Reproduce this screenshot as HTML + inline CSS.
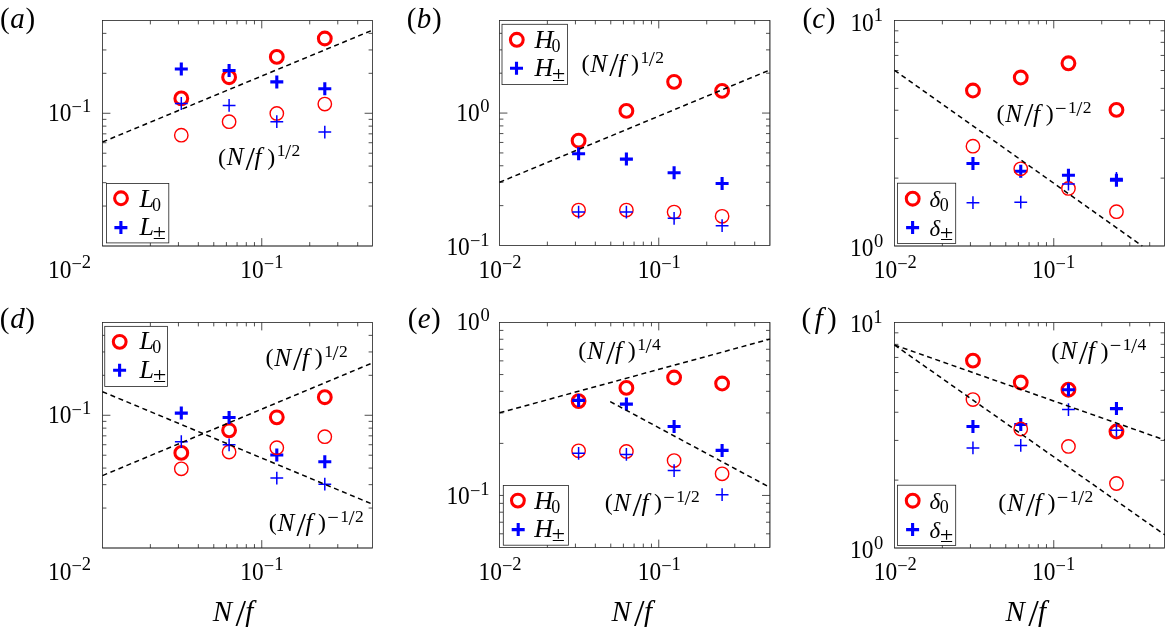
<!DOCTYPE html>
<html lang="en">
<head>
<meta charset="utf-8">
<title>Figure</title>
<style>
html,body{margin:0;padding:0;background:#fff;overflow:hidden}
svg{display:block}
</style>
</head>
<body>
<svg width="1165" height="627" viewBox="0 0 1165 627" font-family="'Liberation Serif', 'DejaVu Serif', serif" fill="#000">
<rect width="1165" height="627" fill="#fff"/>
<g id="panel-a">
<path d="M150.37 20.5v3.9M150.37 246v-3.9M178.43 20.5v3.9M178.43 246v-3.9M198.34 20.5v3.9M198.34 246v-3.9M213.78 20.5v3.9M213.78 246v-3.9M226.4 20.5v3.9M226.4 246v-3.9M237.07 20.5v3.9M237.07 246v-3.9M246.31 20.5v3.9M246.31 246v-3.9M254.46 20.5v3.9M254.46 246v-3.9M261.75 20.5v7.9M261.75 246v-7.9M309.72 20.5v3.9M309.72 246v-3.9M337.78 20.5v3.9M337.78 246v-3.9M357.69 20.5v3.9M357.69 246v-3.9M102.5 206.05h3.9M372.5 206.05h-3.9M102.5 182.67h3.9M372.5 182.67h-3.9M102.5 166.09h3.9M372.5 166.09h-3.9M102.5 153.23h3.9M372.5 153.23h-3.9M102.5 142.72h3.9M372.5 142.72h-3.9M102.5 133.83h3.9M372.5 133.83h-3.9M102.5 126.14h3.9M372.5 126.14h-3.9M102.5 119.35h3.9M372.5 119.35h-3.9M102.5 113.27h7.9M372.5 113.27h-7.9M102.5 73.32h3.9M372.5 73.32h-3.9M102.5 49.95h3.9M372.5 49.95h-3.9M102.5 33.36h3.9M372.5 33.36h-3.9" stroke="#222" stroke-width="0.8" fill="none"/>
<rect x="102.5" y="20.5" width="270" height="225.5" fill="none" stroke="#222" stroke-width="0.8"/>
<path d="M102.5 246H372.5" stroke="#222" stroke-width="0.5" fill="none"/>
<circle cx="181.3" cy="98.4" r="6.4" fill="none" stroke="#ff0000" stroke-width="3.05"/>
<circle cx="229.1" cy="77.2" r="6.4" fill="none" stroke="#ff0000" stroke-width="3.05"/>
<circle cx="276.8" cy="56.9" r="6.4" fill="none" stroke="#ff0000" stroke-width="3.05"/>
<circle cx="324.8" cy="38.5" r="6.4" fill="none" stroke="#ff0000" stroke-width="3.05"/>
<path d="M174.8 69H187.8M181.3 62.5V75.5" stroke="#0000ff" stroke-width="3.1" fill="none"/>
<path d="M222.6 70.5H235.6M229.1 64V77" stroke="#0000ff" stroke-width="3.1" fill="none"/>
<path d="M270.3 81.9H283.3M276.8 75.4V88.4" stroke="#0000ff" stroke-width="3.1" fill="none"/>
<path d="M318.3 88.8H331.3M324.8 82.3V95.3" stroke="#0000ff" stroke-width="3.1" fill="none"/>
<circle cx="181.3" cy="135.2" r="6.7" fill="none" stroke="#ff0000" stroke-width="1.4"/>
<circle cx="229.1" cy="121.7" r="6.7" fill="none" stroke="#ff0000" stroke-width="1.4"/>
<circle cx="276.8" cy="113.4" r="6.7" fill="none" stroke="#ff0000" stroke-width="1.4"/>
<circle cx="324.8" cy="104.1" r="6.7" fill="none" stroke="#ff0000" stroke-width="1.4"/>
<path d="M174.9 103.5H187.7M181.3 97.1V109.9" stroke="#0000ff" stroke-width="1.5" fill="none"/>
<path d="M222.7 105.4H235.5M229.1 99V111.8" stroke="#0000ff" stroke-width="1.5" fill="none"/>
<path d="M270.4 121.7H283.2M276.8 115.3V128.1" stroke="#0000ff" stroke-width="1.5" fill="none"/>
<path d="M318.4 132.1H331.2M324.8 125.7V138.5" stroke="#0000ff" stroke-width="1.5" fill="none"/>
<line x1="102.5" y1="142" x2="372.5" y2="30.15" stroke="#000" stroke-width="1.5" stroke-dasharray="5 3.65"/>
</g>
<g id="panel-b">
<path d="M547.37 20.5v3.9M547.37 245.5v-3.9M575.43 20.5v3.9M575.43 245.5v-3.9M595.34 20.5v3.9M595.34 245.5v-3.9M610.78 20.5v3.9M610.78 245.5v-3.9M623.4 20.5v3.9M623.4 245.5v-3.9M634.07 20.5v3.9M634.07 245.5v-3.9M643.31 20.5v3.9M643.31 245.5v-3.9M651.46 20.5v3.9M651.46 245.5v-3.9M658.75 20.5v7.9M658.75 245.5v-7.9M706.72 20.5v3.9M706.72 245.5v-3.9M734.78 20.5v3.9M734.78 245.5v-3.9M754.69 20.5v3.9M754.69 245.5v-3.9M499.5 205.63h3.9M769.9 205.63h-3.9M499.5 182.31h3.9M769.9 182.31h-3.9M499.5 165.77h3.9M769.9 165.77h-3.9M499.5 152.93h3.9M769.9 152.93h-3.9M499.5 142.45h3.9M769.9 142.45h-3.9M499.5 133.58h3.9M769.9 133.58h-3.9M499.5 125.9h3.9M769.9 125.9h-3.9M499.5 119.13h3.9M769.9 119.13h-3.9M499.5 113.07h7.9M769.9 113.07h-7.9M499.5 73.2h3.9M769.9 73.2h-3.9M499.5 49.88h3.9M769.9 49.88h-3.9M499.5 33.33h3.9M769.9 33.33h-3.9" stroke="#222" stroke-width="0.8" fill="none"/>
<rect x="499.5" y="20.5" width="270.4" height="225" fill="none" stroke="#222" stroke-width="0.8"/>
<path d="M769.9 20.5V245.5" stroke="#222" stroke-width="0.5" fill="none"/>
<circle cx="578.6" cy="140.7" r="6.4" fill="none" stroke="#ff0000" stroke-width="3.05"/>
<circle cx="626.4" cy="110.9" r="6.4" fill="none" stroke="#ff0000" stroke-width="3.05"/>
<circle cx="674.1" cy="81.8" r="6.4" fill="none" stroke="#ff0000" stroke-width="3.05"/>
<circle cx="722.1" cy="90.9" r="6.4" fill="none" stroke="#ff0000" stroke-width="3.05"/>
<path d="M572.1 153.8H585.1M578.6 147.3V160.3" stroke="#0000ff" stroke-width="3.1" fill="none"/>
<path d="M619.9 159.1H632.9M626.4 152.6V165.6" stroke="#0000ff" stroke-width="3.1" fill="none"/>
<path d="M667.6 172.8H680.6M674.1 166.3V179.3" stroke="#0000ff" stroke-width="3.1" fill="none"/>
<path d="M715.6 183.5H728.6M722.1 177V190" stroke="#0000ff" stroke-width="3.1" fill="none"/>
<circle cx="578.6" cy="210.1" r="6.7" fill="none" stroke="#ff0000" stroke-width="1.4"/>
<circle cx="626.4" cy="210.1" r="6.7" fill="none" stroke="#ff0000" stroke-width="1.4"/>
<circle cx="674.1" cy="212.1" r="6.7" fill="none" stroke="#ff0000" stroke-width="1.4"/>
<circle cx="722.1" cy="216.3" r="6.7" fill="none" stroke="#ff0000" stroke-width="1.4"/>
<path d="M572.2 212.1H585M578.6 205.7V218.5" stroke="#0000ff" stroke-width="1.5" fill="none"/>
<path d="M620 212.1H632.8M626.4 205.7V218.5" stroke="#0000ff" stroke-width="1.5" fill="none"/>
<path d="M667.7 218.3H680.5M674.1 211.9V224.7" stroke="#0000ff" stroke-width="1.5" fill="none"/>
<path d="M715.7 225.7H728.5M722.1 219.3V232.1" stroke="#0000ff" stroke-width="1.5" fill="none"/>
<line x1="499.5" y1="182.3" x2="769.9" y2="69.95" stroke="#000" stroke-width="1.5" stroke-dasharray="5 3.65"/>
</g>
<g id="panel-c">
<path d="M942.37 20.5v3.9M942.37 246v-3.9M970.43 20.5v3.9M970.43 246v-3.9M990.34 20.5v3.9M990.34 246v-3.9M1005.78 20.5v3.9M1005.78 246v-3.9M1018.4 20.5v3.9M1018.4 246v-3.9M1029.07 20.5v3.9M1029.07 246v-3.9M1038.31 20.5v3.9M1038.31 246v-3.9M1046.46 20.5v3.9M1046.46 246v-3.9M1053.75 20.5v7.9M1053.75 246v-7.9M1101.72 20.5v3.9M1101.72 246v-3.9M1129.78 20.5v3.9M1129.78 246v-3.9M1149.69 20.5v3.9M1149.69 246v-3.9M894.5 178.12h3.9M1164.5 178.12h-3.9M894.5 138.41h3.9M1164.5 138.41h-3.9M894.5 110.24h3.9M1164.5 110.24h-3.9M894.5 88.38h3.9M1164.5 88.38h-3.9M894.5 70.53h3.9M1164.5 70.53h-3.9M894.5 55.43h3.9M1164.5 55.43h-3.9M894.5 42.35h3.9M1164.5 42.35h-3.9M894.5 30.82h3.9M1164.5 30.82h-3.9" stroke="#222" stroke-width="0.8" fill="none"/>
<rect x="894.5" y="20.5" width="270" height="225.5" fill="none" stroke="#222" stroke-width="0.8"/>
<path d="M894.5 246H1164.5" stroke="#222" stroke-width="0.5" fill="none"/>
<circle cx="972.95" cy="90.5" r="6.4" fill="none" stroke="#ff0000" stroke-width="3.05"/>
<circle cx="1020.75" cy="77.5" r="6.4" fill="none" stroke="#ff0000" stroke-width="3.05"/>
<circle cx="1068.45" cy="63.3" r="6.4" fill="none" stroke="#ff0000" stroke-width="3.05"/>
<circle cx="1116.45" cy="109.9" r="6.4" fill="none" stroke="#ff0000" stroke-width="3.05"/>
<path d="M966.45 163.5H979.45M972.95 157V170" stroke="#0000ff" stroke-width="3.1" fill="none"/>
<path d="M1014.25 171.3H1027.25M1020.75 164.8V177.8" stroke="#0000ff" stroke-width="3.1" fill="none"/>
<path d="M1061.95 175.3H1074.95M1068.45 168.8V181.8" stroke="#0000ff" stroke-width="3.1" fill="none"/>
<path d="M1109.95 180.2H1122.95M1116.45 173.7V186.7" stroke="#0000ff" stroke-width="3.1" fill="none"/>
<circle cx="972.95" cy="146.2" r="6.7" fill="none" stroke="#ff0000" stroke-width="1.4"/>
<circle cx="1020.75" cy="168.8" r="6.7" fill="none" stroke="#ff0000" stroke-width="1.4"/>
<circle cx="1068.45" cy="188.4" r="6.7" fill="none" stroke="#ff0000" stroke-width="1.4"/>
<circle cx="1116.45" cy="211.7" r="6.7" fill="none" stroke="#ff0000" stroke-width="1.4"/>
<path d="M966.55 202.7H979.35M972.95 196.3V209.1" stroke="#0000ff" stroke-width="1.5" fill="none"/>
<path d="M1014.35 202.2H1027.15M1020.75 195.8V208.6" stroke="#0000ff" stroke-width="1.5" fill="none"/>
<path d="M1062.05 184H1074.85M1068.45 177.6V190.4" stroke="#0000ff" stroke-width="1.5" fill="none"/>
<path d="M1110.05 178.4H1122.85M1116.45 172V184.8" stroke="#0000ff" stroke-width="1.5" fill="none"/>
<line x1="894.5" y1="70.3" x2="1142.3" y2="246" stroke="#000" stroke-width="1.5" stroke-dasharray="5 3.65"/>
</g>
<g id="panel-d">
<path d="M150.37 322.5v3.9M150.37 548v-3.9M178.43 322.5v3.9M178.43 548v-3.9M198.34 322.5v3.9M198.34 548v-3.9M213.78 322.5v3.9M213.78 548v-3.9M226.4 322.5v3.9M226.4 548v-3.9M237.07 322.5v3.9M237.07 548v-3.9M246.31 322.5v3.9M246.31 548v-3.9M254.46 322.5v3.9M254.46 548v-3.9M261.75 322.5v7.9M261.75 548v-7.9M309.72 322.5v3.9M309.72 548v-3.9M337.78 322.5v3.9M337.78 548v-3.9M357.69 322.5v3.9M357.69 548v-3.9M102.5 508.05h3.9M372.5 508.05h-3.9M102.5 484.67h3.9M372.5 484.67h-3.9M102.5 468.09h3.9M372.5 468.09h-3.9M102.5 455.23h3.9M372.5 455.23h-3.9M102.5 444.72h3.9M372.5 444.72h-3.9M102.5 435.83h3.9M372.5 435.83h-3.9M102.5 428.14h3.9M372.5 428.14h-3.9M102.5 421.35h3.9M372.5 421.35h-3.9M102.5 415.27h7.9M372.5 415.27h-7.9M102.5 375.32h3.9M372.5 375.32h-3.9M102.5 351.95h3.9M372.5 351.95h-3.9M102.5 335.36h3.9M372.5 335.36h-3.9" stroke="#222" stroke-width="0.8" fill="none"/>
<rect x="102.5" y="322.5" width="270" height="225.5" fill="none" stroke="#222" stroke-width="0.8"/>
<path d="M102.5 548H372.5" stroke="#222" stroke-width="0.5" fill="none"/>
<circle cx="181.3" cy="452.9" r="6.4" fill="none" stroke="#ff0000" stroke-width="3.05"/>
<circle cx="229.1" cy="430.3" r="6.4" fill="none" stroke="#ff0000" stroke-width="3.05"/>
<circle cx="276.8" cy="417.3" r="6.4" fill="none" stroke="#ff0000" stroke-width="3.05"/>
<circle cx="324.8" cy="397.2" r="6.4" fill="none" stroke="#ff0000" stroke-width="3.05"/>
<path d="M174.8 413.1H187.8M181.3 406.6V419.6" stroke="#0000ff" stroke-width="3.1" fill="none"/>
<path d="M222.6 417.5H235.6M229.1 411V424" stroke="#0000ff" stroke-width="3.1" fill="none"/>
<path d="M270.3 455H283.3M276.8 448.5V461.5" stroke="#0000ff" stroke-width="3.1" fill="none"/>
<path d="M318.3 461.8H331.3M324.8 455.3V468.3" stroke="#0000ff" stroke-width="3.1" fill="none"/>
<circle cx="181.3" cy="468.8" r="6.7" fill="none" stroke="#ff0000" stroke-width="1.4"/>
<circle cx="229.1" cy="452" r="6.7" fill="none" stroke="#ff0000" stroke-width="1.4"/>
<circle cx="276.8" cy="447.7" r="6.7" fill="none" stroke="#ff0000" stroke-width="1.4"/>
<circle cx="324.8" cy="436.7" r="6.7" fill="none" stroke="#ff0000" stroke-width="1.4"/>
<path d="M174.9 441.7H187.7M181.3 435.3V448.1" stroke="#0000ff" stroke-width="1.5" fill="none"/>
<path d="M222.7 444.8H235.5M229.1 438.4V451.2" stroke="#0000ff" stroke-width="1.5" fill="none"/>
<path d="M270.4 478.1H283.2M276.8 471.7V484.5" stroke="#0000ff" stroke-width="1.5" fill="none"/>
<path d="M318.4 484.2H331.2M324.8 477.8V490.6" stroke="#0000ff" stroke-width="1.5" fill="none"/>
<line x1="102.5" y1="475.6" x2="372.5" y2="362.9" stroke="#000" stroke-width="1.5" stroke-dasharray="5 3.65"/>
<line x1="102.5" y1="391.7" x2="372.5" y2="504.2" stroke="#000" stroke-width="1.5" stroke-dasharray="5 3.65"/>
</g>
<g id="panel-e">
<path d="M547.37 322.5v3.9M547.37 547.5v-3.9M575.43 322.5v3.9M575.43 547.5v-3.9M595.34 322.5v3.9M595.34 547.5v-3.9M610.78 322.5v3.9M610.78 547.5v-3.9M623.4 322.5v3.9M623.4 547.5v-3.9M634.07 322.5v3.9M634.07 547.5v-3.9M643.31 322.5v3.9M643.31 547.5v-3.9M651.46 322.5v3.9M651.46 547.5v-3.9M658.75 322.5v7.9M658.75 547.5v-7.9M706.72 322.5v3.9M706.72 547.5v-3.9M734.78 322.5v3.9M734.78 547.5v-3.9M754.69 322.5v3.9M754.69 547.5v-3.9M499.5 533.81h3.9M769.9 533.81h-3.9M499.5 522.23h3.9M769.9 522.23h-3.9M499.5 512.2h3.9M769.9 512.2h-3.9M499.5 503.35h3.9M769.9 503.35h-3.9M499.5 495.44h7.9M769.9 495.44h-7.9M499.5 443.38h3.9M769.9 443.38h-3.9M499.5 412.93h3.9M769.9 412.93h-3.9M499.5 391.32h3.9M769.9 391.32h-3.9M499.5 374.56h3.9M769.9 374.56h-3.9M499.5 360.87h3.9M769.9 360.87h-3.9M499.5 349.29h3.9M769.9 349.29h-3.9M499.5 339.26h3.9M769.9 339.26h-3.9M499.5 330.41h3.9M769.9 330.41h-3.9" stroke="#222" stroke-width="0.8" fill="none"/>
<rect x="499.5" y="322.5" width="270.4" height="225" fill="none" stroke="#222" stroke-width="0.8"/>
<path d="M769.9 322.5V547.5" stroke="#222" stroke-width="0.5" fill="none"/>
<circle cx="578.6" cy="401.1" r="6.4" fill="none" stroke="#ff0000" stroke-width="3.05"/>
<circle cx="626.4" cy="387.9" r="6.4" fill="none" stroke="#ff0000" stroke-width="3.05"/>
<circle cx="674.1" cy="377.5" r="6.4" fill="none" stroke="#ff0000" stroke-width="3.05"/>
<circle cx="722.1" cy="383.5" r="6.4" fill="none" stroke="#ff0000" stroke-width="3.05"/>
<path d="M572.1 400.4H585.1M578.6 393.9V406.9" stroke="#0000ff" stroke-width="3.1" fill="none"/>
<path d="M619.9 404.1H632.9M626.4 397.6V410.6" stroke="#0000ff" stroke-width="3.1" fill="none"/>
<path d="M667.6 426.5H680.6M674.1 420V433" stroke="#0000ff" stroke-width="3.1" fill="none"/>
<path d="M715.6 450.4H728.6M722.1 443.9V456.9" stroke="#0000ff" stroke-width="3.1" fill="none"/>
<circle cx="578.6" cy="450.8" r="6.7" fill="none" stroke="#ff0000" stroke-width="1.4"/>
<circle cx="626.4" cy="451.4" r="6.7" fill="none" stroke="#ff0000" stroke-width="1.4"/>
<circle cx="674.1" cy="460.6" r="6.7" fill="none" stroke="#ff0000" stroke-width="1.4"/>
<circle cx="722.1" cy="473.8" r="6.7" fill="none" stroke="#ff0000" stroke-width="1.4"/>
<path d="M572.2 453.3H585M578.6 446.9V459.7" stroke="#0000ff" stroke-width="1.5" fill="none"/>
<path d="M620 454.4H632.8M626.4 448V460.8" stroke="#0000ff" stroke-width="1.5" fill="none"/>
<path d="M667.7 470.6H680.5M674.1 464.2V477" stroke="#0000ff" stroke-width="1.5" fill="none"/>
<path d="M715.7 494.7H728.5M722.1 488.3V501.1" stroke="#0000ff" stroke-width="1.5" fill="none"/>
<line x1="499.5" y1="412.8" x2="770" y2="339.1" stroke="#000" stroke-width="1.5" stroke-dasharray="5 3.65"/>
<line x1="610.2" y1="401.6" x2="770" y2="487.5" stroke="#000" stroke-width="1.5" stroke-dasharray="5 3.65"/>
</g>
<g id="panel-f">
<path d="M942.37 322.5v3.9M942.37 548v-3.9M970.43 322.5v3.9M970.43 548v-3.9M990.34 322.5v3.9M990.34 548v-3.9M1005.78 322.5v3.9M1005.78 548v-3.9M1018.4 322.5v3.9M1018.4 548v-3.9M1029.07 322.5v3.9M1029.07 548v-3.9M1038.31 322.5v3.9M1038.31 548v-3.9M1046.46 322.5v3.9M1046.46 548v-3.9M1053.75 322.5v7.9M1053.75 548v-7.9M1101.72 322.5v3.9M1101.72 548v-3.9M1129.78 322.5v3.9M1129.78 548v-3.9M1149.69 322.5v3.9M1149.69 548v-3.9M894.5 480.12h3.9M1164.5 480.12h-3.9M894.5 440.41h3.9M1164.5 440.41h-3.9M894.5 412.24h3.9M1164.5 412.24h-3.9M894.5 390.38h3.9M1164.5 390.38h-3.9M894.5 372.53h3.9M1164.5 372.53h-3.9M894.5 357.43h3.9M1164.5 357.43h-3.9M894.5 344.35h3.9M1164.5 344.35h-3.9M894.5 332.82h3.9M1164.5 332.82h-3.9" stroke="#222" stroke-width="0.8" fill="none"/>
<rect x="894.5" y="322.5" width="270" height="225.5" fill="none" stroke="#222" stroke-width="0.8"/>
<path d="M894.5 548H1164.5" stroke="#222" stroke-width="0.5" fill="none"/>
<circle cx="972.95" cy="360.6" r="6.4" fill="none" stroke="#ff0000" stroke-width="3.05"/>
<circle cx="1020.75" cy="382.5" r="6.4" fill="none" stroke="#ff0000" stroke-width="3.05"/>
<circle cx="1068.45" cy="389.7" r="6.4" fill="none" stroke="#ff0000" stroke-width="3.05"/>
<circle cx="1116.45" cy="431.5" r="6.4" fill="none" stroke="#ff0000" stroke-width="3.05"/>
<path d="M966.45 426.5H979.45M972.95 420V433" stroke="#0000ff" stroke-width="3.1" fill="none"/>
<path d="M1014.25 424.5H1027.25M1020.75 418V431" stroke="#0000ff" stroke-width="3.1" fill="none"/>
<path d="M1061.95 389.7H1074.95M1068.45 383.2V396.2" stroke="#0000ff" stroke-width="3.1" fill="none"/>
<path d="M1109.95 408.6H1122.95M1116.45 402.1V415.1" stroke="#0000ff" stroke-width="3.1" fill="none"/>
<circle cx="972.95" cy="399.6" r="6.7" fill="none" stroke="#ff0000" stroke-width="1.4"/>
<circle cx="1020.75" cy="429" r="6.7" fill="none" stroke="#ff0000" stroke-width="1.4"/>
<circle cx="1068.45" cy="446.4" r="6.7" fill="none" stroke="#ff0000" stroke-width="1.4"/>
<circle cx="1116.45" cy="483.5" r="6.7" fill="none" stroke="#ff0000" stroke-width="1.4"/>
<path d="M966.55 447.9H979.35M972.95 441.5V454.3" stroke="#0000ff" stroke-width="1.5" fill="none"/>
<path d="M1014.35 445.4H1027.15M1020.75 439V451.8" stroke="#0000ff" stroke-width="1.5" fill="none"/>
<path d="M1062.05 409.6H1074.85M1068.45 403.2V416" stroke="#0000ff" stroke-width="1.5" fill="none"/>
<path d="M1110.05 430.3H1122.85M1116.45 423.9V436.7" stroke="#0000ff" stroke-width="1.5" fill="none"/>
<line x1="894.5" y1="345" x2="1165" y2="440.1" stroke="#000" stroke-width="1.5" stroke-dasharray="5 3.65"/>
<line x1="894.5" y1="345" x2="1165" y2="535" stroke="#000" stroke-width="1.5" stroke-dasharray="5 3.65"/>
</g>
<rect x="106.4" y="183.5" width="62.4" height="59.4" fill="#fff" stroke="#222" stroke-width="0.8"/>
<circle cx="121" cy="198.25" r="6.4" fill="none" stroke="#ff0000" stroke-width="3.05"/>
<path d="M114.4 227.6H127.4M120.9 221.1V234.1" stroke="#0000ff" stroke-width="3.1" fill="none"/>
<text x="139.45" y="206.8" font-size="26" font-style="italic">L</text>
<text x="152.05" y="210.8" font-size="18">0</text>
<text x="139.45" y="234.55" font-size="26" font-style="italic">L</text>
<text transform="translate(152.75 238.75) scale(1.2 1)" font-size="20">±</text>
<rect x="502" y="24.3" width="65.4" height="60.3" fill="#fff" stroke="#222" stroke-width="0.8"/>
<circle cx="516.8" cy="39.8" r="6.4" fill="none" stroke="#ff0000" stroke-width="3.05"/>
<path d="M510 68.2H523M516.5 61.7V74.7" stroke="#0000ff" stroke-width="3.1" fill="none"/>
<text x="534.55" y="48.2" font-size="26" font-style="italic">H</text>
<text x="551.55" y="52.2" font-size="18">0</text>
<text x="534.55" y="76.3" font-size="26" font-style="italic">H</text>
<text transform="translate(552.05 80.5) scale(1.2 1)" font-size="20">±</text>
<rect x="897.5" y="183.2" width="58.2" height="60.2" fill="#fff" stroke="#222" stroke-width="0.8"/>
<circle cx="912.7" cy="198.7" r="6.4" fill="none" stroke="#ff0000" stroke-width="3.05"/>
<path d="M906.1 227.6H919.1M912.6 221.1V234.1" stroke="#0000ff" stroke-width="3.1" fill="none"/>
<text x="929.5" y="207.1" font-size="23" font-style="italic">δ</text>
<text x="939.8" y="211.1" font-size="18">0</text>
<text x="929.5" y="235.8" font-size="23" font-style="italic">δ</text>
<text transform="translate(940.1 240) scale(1.2 1)" font-size="20">±</text>
<rect x="104.75" y="326.35" width="62.75" height="60.15" fill="#fff" stroke="#222" stroke-width="0.8"/>
<circle cx="119.7" cy="341.8" r="6.4" fill="none" stroke="#ff0000" stroke-width="3.05"/>
<path d="M113.1 370.2H126.1M119.6 363.7V376.7" stroke="#0000ff" stroke-width="3.1" fill="none"/>
<text x="139.6" y="349.2" font-size="26" font-style="italic">L</text>
<text x="152.2" y="353.2" font-size="18">0</text>
<text x="139.6" y="377.6" font-size="26" font-style="italic">L</text>
<text transform="translate(152.9 381.8) scale(1.2 1)" font-size="20">±</text>
<rect x="503.3" y="485.4" width="65.3" height="59.8" fill="#fff" stroke="#222" stroke-width="0.8"/>
<circle cx="517.9" cy="500.55" r="6.4" fill="none" stroke="#ff0000" stroke-width="3.05"/>
<path d="M511.7 529.6H524.7M518.2 523.1V536.1" stroke="#0000ff" stroke-width="3.1" fill="none"/>
<text x="534.3" y="509.4" font-size="26" font-style="italic">H</text>
<text x="551.3" y="513.4" font-size="18">0</text>
<text x="534.3" y="537" font-size="26" font-style="italic">H</text>
<text transform="translate(551.8 541.2) scale(1.2 1)" font-size="20">±</text>
<rect x="897.5" y="485.2" width="58.2" height="60.2" fill="#fff" stroke="#222" stroke-width="0.8"/>
<circle cx="912.7" cy="500.7" r="6.4" fill="none" stroke="#ff0000" stroke-width="3.05"/>
<path d="M906.1 529.6H919.1M912.6 523.1V536.1" stroke="#0000ff" stroke-width="3.1" fill="none"/>
<text x="929.5" y="509.1" font-size="23" font-style="italic">δ</text>
<text x="939.8" y="513.1" font-size="18">0</text>
<text x="929.5" y="537.8" font-size="23" font-style="italic">δ</text>
<text transform="translate(940.1 542) scale(1.2 1)" font-size="20">±</text>
<text y="165.2" font-size="25.3"><tspan x="217.94" dy="-0.7" font-size="24">(</tspan><tspan x="226.7" dy="0.7" font-style="italic">N</tspan><tspan x="245.6" dy="4.6" font-size="34">/</tspan><tspan x="254.6" dy="-4.6" font-style="italic">f</tspan><tspan x="267.3" dy="-0.7" font-size="24">)</tspan><tspan x="276.8" dy="-8.1" font-size="17.5">1</tspan><tspan x="285.1" dy="2.9" font-size="22">/</tspan><tspan x="291.6" dy="-2.9" font-size="17.5">2</tspan></text>
<text y="71.5" font-size="25.3"><tspan x="581.54" dy="-0.7" font-size="24">(</tspan><tspan x="590.3" dy="0.7" font-style="italic">N</tspan><tspan x="609.2" dy="4.6" font-size="34">/</tspan><tspan x="618.2" dy="-4.6" font-style="italic">f</tspan><tspan x="630.9" dy="-0.7" font-size="24">)</tspan><tspan x="640.4" dy="-8.1" font-size="17.5">1</tspan><tspan x="648.7" dy="2.9" font-size="22">/</tspan><tspan x="655.2" dy="-2.9" font-size="17.5">2</tspan></text>
<text y="121.8" font-size="25.3"><tspan x="996.44" dy="-0.7" font-size="24">(</tspan><tspan x="1005.2" dy="0.7" font-style="italic">N</tspan><tspan x="1024.1" dy="4.6" font-size="34">/</tspan><tspan x="1033.1" dy="-4.6" font-style="italic">f</tspan><tspan x="1045.8" dy="-0.7" font-size="24">)</tspan><tspan x="1055" dy="-6.3" font-size="20.5">−</tspan><tspan x="1068" dy="-1.8" font-size="17.5">1</tspan><tspan x="1076.3" dy="2.9" font-size="22">/</tspan><tspan x="1082.8" dy="-2.9" font-size="17.5">2</tspan></text>
<text y="365.7" font-size="25.3"><tspan x="265.44" dy="-0.7" font-size="24">(</tspan><tspan x="274.2" dy="0.7" font-style="italic">N</tspan><tspan x="293.1" dy="4.6" font-size="34">/</tspan><tspan x="302.1" dy="-4.6" font-style="italic">f</tspan><tspan x="314.8" dy="-0.7" font-size="24">)</tspan><tspan x="324.3" dy="-8.1" font-size="17.5">1</tspan><tspan x="332.6" dy="2.9" font-size="22">/</tspan><tspan x="339.1" dy="-2.9" font-size="17.5">2</tspan></text>
<text y="531" font-size="25.3"><tspan x="268.74" dy="-0.7" font-size="24">(</tspan><tspan x="277.5" dy="0.7" font-style="italic">N</tspan><tspan x="296.4" dy="4.6" font-size="34">/</tspan><tspan x="305.4" dy="-4.6" font-style="italic">f</tspan><tspan x="318.1" dy="-0.7" font-size="24">)</tspan><tspan x="327.3" dy="-6.3" font-size="20.5">−</tspan><tspan x="340.3" dy="-1.8" font-size="17.5">1</tspan><tspan x="348.6" dy="2.9" font-size="22">/</tspan><tspan x="355.1" dy="-2.9" font-size="17.5">2</tspan></text>
<text y="359.1" font-size="25.3"><tspan x="578.34" dy="-0.7" font-size="24">(</tspan><tspan x="587.1" dy="0.7" font-style="italic">N</tspan><tspan x="606" dy="4.6" font-size="34">/</tspan><tspan x="615" dy="-4.6" font-style="italic">f</tspan><tspan x="627.7" dy="-0.7" font-size="24">)</tspan><tspan x="637.2" dy="-8.1" font-size="17.5">1</tspan><tspan x="645.5" dy="2.9" font-size="22">/</tspan><tspan x="652" dy="-2.9" font-size="17.5">4</tspan></text>
<text y="511" font-size="25.3"><tspan x="604.74" dy="-0.7" font-size="24">(</tspan><tspan x="613.5" dy="0.7" font-style="italic">N</tspan><tspan x="632.4" dy="4.6" font-size="34">/</tspan><tspan x="641.4" dy="-4.6" font-style="italic">f</tspan><tspan x="654.1" dy="-0.7" font-size="24">)</tspan><tspan x="663.3" dy="-6.3" font-size="20.5">−</tspan><tspan x="676.3" dy="-1.8" font-size="17.5">1</tspan><tspan x="684.6" dy="2.9" font-size="22">/</tspan><tspan x="691.1" dy="-2.9" font-size="17.5">2</tspan></text>
<text y="359.2" font-size="25.3"><tspan x="1051.14" dy="-0.7" font-size="24">(</tspan><tspan x="1059.9" dy="0.7" font-style="italic">N</tspan><tspan x="1078.8" dy="4.6" font-size="34">/</tspan><tspan x="1087.8" dy="-4.6" font-style="italic">f</tspan><tspan x="1100.5" dy="-0.7" font-size="24">)</tspan><tspan x="1109.7" dy="-6.3" font-size="20.5">−</tspan><tspan x="1122.7" dy="-1.8" font-size="17.5">1</tspan><tspan x="1131" dy="2.9" font-size="22">/</tspan><tspan x="1137.5" dy="-2.9" font-size="17.5">4</tspan></text>
<text y="511.1" font-size="25.3"><tspan x="998.14" dy="-0.7" font-size="24">(</tspan><tspan x="1006.9" dy="0.7" font-style="italic">N</tspan><tspan x="1025.8" dy="4.6" font-size="34">/</tspan><tspan x="1034.8" dy="-4.6" font-style="italic">f</tspan><tspan x="1047.5" dy="-0.7" font-size="24">)</tspan><tspan x="1056.7" dy="-6.3" font-size="20.5">−</tspan><tspan x="1069.7" dy="-1.8" font-size="17.5">1</tspan><tspan x="1078" dy="2.9" font-size="22">/</tspan><tspan x="1084.5" dy="-2.9" font-size="17.5">2</tspan></text>
<text y="120.9" font-size="25.3"><tspan x="48.1" textLength="23.4" lengthAdjust="spacingAndGlyphs">10</tspan><tspan x="71.6" dy="-7.6" font-size="18.5">−</tspan><tspan x="82" dy="-1.8" font-size="18.5">1</tspan></text>
<text y="277.8" font-size="25.3"><tspan x="48.1" textLength="23.4" lengthAdjust="spacingAndGlyphs">10</tspan><tspan x="71.6" dy="-7.6" font-size="18.5">−</tspan><tspan x="81.8" dy="-1.8" font-size="18.5">2</tspan></text>
<text y="277.8" font-size="25.3"><tspan x="240.3" textLength="23.4" lengthAdjust="spacingAndGlyphs">10</tspan><tspan x="263.8" dy="-7.6" font-size="18.5">−</tspan><tspan x="274.2" dy="-1.8" font-size="18.5">1</tspan></text>
<text y="121.4" font-size="25.3"><tspan x="456.2" textLength="23.4" lengthAdjust="spacingAndGlyphs">10</tspan><tspan x="480.2" dy="-9.4" font-size="18.5">0</tspan></text>
<text y="255" font-size="25.3"><tspan x="446.4" textLength="23.4" lengthAdjust="spacingAndGlyphs">10</tspan><tspan x="469.9" dy="-7.6" font-size="18.5">−</tspan><tspan x="480.3" dy="-1.8" font-size="18.5">1</tspan></text>
<text y="277.8" font-size="25.3"><tspan x="478.5" textLength="23.4" lengthAdjust="spacingAndGlyphs">10</tspan><tspan x="502" dy="-7.6" font-size="18.5">−</tspan><tspan x="512.2" dy="-1.8" font-size="18.5">2</tspan></text>
<text y="277.8" font-size="25.3"><tspan x="637.7" textLength="23.4" lengthAdjust="spacingAndGlyphs">10</tspan><tspan x="661.2" dy="-7.6" font-size="18.5">−</tspan><tspan x="671.6" dy="-1.8" font-size="18.5">1</tspan></text>
<text y="30.6" font-size="25.3"><tspan x="850.4" textLength="23.4" lengthAdjust="spacingAndGlyphs">10</tspan><tspan x="873.8" dy="-9.4" font-size="18.5">1</tspan></text>
<text y="256.1" font-size="25.3"><tspan x="850" textLength="23.4" lengthAdjust="spacingAndGlyphs">10</tspan><tspan x="874" dy="-9.4" font-size="18.5">0</tspan></text>
<text y="277.8" font-size="25.3"><tspan x="873.8" textLength="23.4" lengthAdjust="spacingAndGlyphs">10</tspan><tspan x="897.3" dy="-7.6" font-size="18.5">−</tspan><tspan x="907.5" dy="-1.8" font-size="18.5">2</tspan></text>
<text y="277.8" font-size="25.3"><tspan x="1032.1" textLength="23.4" lengthAdjust="spacingAndGlyphs">10</tspan><tspan x="1055.6" dy="-7.6" font-size="18.5">−</tspan><tspan x="1066" dy="-1.8" font-size="18.5">1</tspan></text>
<text y="423.2" font-size="25.3"><tspan x="48.1" textLength="23.4" lengthAdjust="spacingAndGlyphs">10</tspan><tspan x="71.6" dy="-7.6" font-size="18.5">−</tspan><tspan x="82" dy="-1.8" font-size="18.5">1</tspan></text>
<text y="579.8" font-size="25.3"><tspan x="48.1" textLength="23.4" lengthAdjust="spacingAndGlyphs">10</tspan><tspan x="71.6" dy="-7.6" font-size="18.5">−</tspan><tspan x="81.8" dy="-1.8" font-size="18.5">2</tspan></text>
<text y="579.8" font-size="25.3"><tspan x="240.3" textLength="23.4" lengthAdjust="spacingAndGlyphs">10</tspan><tspan x="263.8" dy="-7.6" font-size="18.5">−</tspan><tspan x="274.2" dy="-1.8" font-size="18.5">1</tspan></text>
<text y="330.4" font-size="25.3"><tspan x="456.4" textLength="23.4" lengthAdjust="spacingAndGlyphs">10</tspan><tspan x="480.4" dy="-9.4" font-size="18.5">0</tspan></text>
<text y="504.2" font-size="25.3"><tspan x="446.4" textLength="23.4" lengthAdjust="spacingAndGlyphs">10</tspan><tspan x="469.9" dy="-7.6" font-size="18.5">−</tspan><tspan x="480.3" dy="-1.8" font-size="18.5">1</tspan></text>
<text y="579.8" font-size="25.3"><tspan x="478.5" textLength="23.4" lengthAdjust="spacingAndGlyphs">10</tspan><tspan x="502" dy="-7.6" font-size="18.5">−</tspan><tspan x="512.2" dy="-1.8" font-size="18.5">2</tspan></text>
<text y="579.8" font-size="25.3"><tspan x="637.7" textLength="23.4" lengthAdjust="spacingAndGlyphs">10</tspan><tspan x="661.2" dy="-7.6" font-size="18.5">−</tspan><tspan x="671.6" dy="-1.8" font-size="18.5">1</tspan></text>
<text y="332.1" font-size="25.3"><tspan x="849.9" textLength="23.4" lengthAdjust="spacingAndGlyphs">10</tspan><tspan x="873.3" dy="-9.4" font-size="18.5">1</tspan></text>
<text y="558.1" font-size="25.3"><tspan x="850" textLength="23.4" lengthAdjust="spacingAndGlyphs">10</tspan><tspan x="874" dy="-9.4" font-size="18.5">0</tspan></text>
<text y="579.8" font-size="25.3"><tspan x="873.8" textLength="23.4" lengthAdjust="spacingAndGlyphs">10</tspan><tspan x="897.3" dy="-7.6" font-size="18.5">−</tspan><tspan x="907.5" dy="-1.8" font-size="18.5">2</tspan></text>
<text y="579.8" font-size="25.3"><tspan x="1032.1" textLength="23.4" lengthAdjust="spacingAndGlyphs">10</tspan><tspan x="1055.6" dy="-7.6" font-size="18.5">−</tspan><tspan x="1066" dy="-1.8" font-size="18.5">1</tspan></text>
<text y="28.4" font-size="29"><tspan x="-0.1">(</tspan><tspan x="10.2" font-style="italic">a</tspan><tspan x="25.6">)</tspan></text>
<text y="28.4" font-size="29"><tspan x="406.7">(</tspan><tspan x="416.75" font-style="italic">b</tspan><tspan x="432">)</tspan></text>
<text y="28.2" font-size="29"><tspan x="802.6">(</tspan><tspan x="812.2" font-style="italic">c</tspan><tspan x="825.8">)</tspan></text>
<text y="328" font-size="29"><tspan x="-0.3">(</tspan><tspan x="10.15" font-style="italic">d</tspan><tspan x="25.3">)</tspan></text>
<text y="328" font-size="29"><tspan x="407.7">(</tspan><tspan x="417.85" font-style="italic">e</tspan><tspan x="431">)</tspan></text>
<text y="328" font-size="29"><tspan x="801.5">(</tspan><tspan x="814.8" font-style="italic">f</tspan><tspan x="827">)</tspan></text>
<text y="620.9" font-size="29"><tspan x="212.8" font-style="italic">N</tspan><tspan x="235.4" dy="5.2" font-size="38">/</tspan><tspan x="245.3" dy="-5.2" font-style="italic">f</tspan></text>
<text y="620.9" font-size="29"><tspan x="611.5" font-style="italic">N</tspan><tspan x="634.1" dy="5.2" font-size="38">/</tspan><tspan x="644" dy="-5.2" font-style="italic">f</tspan></text>
<text y="620.9" font-size="29"><tspan x="1005.6" font-style="italic">N</tspan><tspan x="1028.2" dy="5.2" font-size="38">/</tspan><tspan x="1038.1" dy="-5.2" font-style="italic">f</tspan></text>
</svg>
</body>
</html>
